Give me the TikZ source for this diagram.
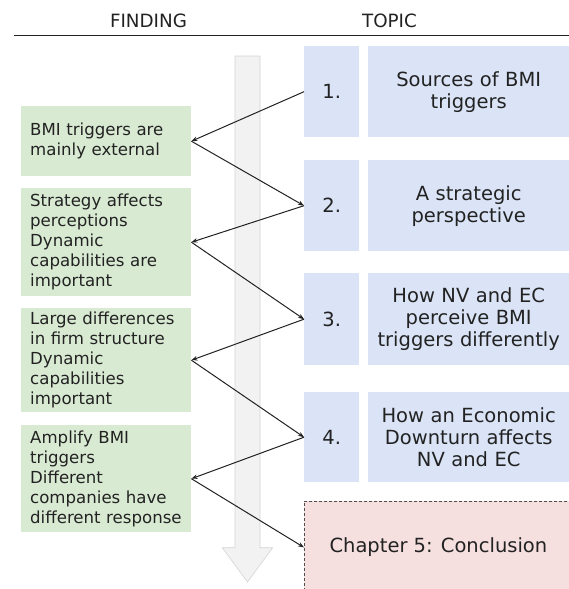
\documentclass[tikz,border=0pt]{standalone}
\usepackage{fontspec}
\setmainfont{DejaVu Sans}
\usetikzlibrary{arrows.meta}
\definecolor{ink}{HTML}{222222}
\definecolor{findfill}{HTML}{D9EAD3}
\definecolor{topicfill}{HTML}{DAE4F6}
\definecolor{endfill}{HTML}{F5DFDF}
\definecolor{flowfill}{HTML}{F2F2F2}
\definecolor{flowline}{HTML}{D4D4D4}
\tikzset{
  header/.style={font=\fontsize{18.3}{22}\selectfont, text=ink, anchor=base},
  findbox/.style={fill=findfill, draw=none, anchor=north west, minimum width=170pt,
    text width=152pt, inner xsep=9pt, inner ysep=0pt, align=left, text=ink,
    font=\fontsize{16.6}{20}\selectfont},
  numbox/.style={fill=topicfill, draw=none, anchor=north west, minimum width=55pt,
    inner sep=0pt, text=ink, font=\fontsize{19.5}{22}\selectfont},
  titlebox/.style={fill=topicfill, draw=none, anchor=north west, minimum width=201pt,
    text width=195pt, inner xsep=3pt, inner ysep=0pt, align=center, text=ink,
    font=\fontsize{19.5}{22}\selectfont},
  endbox/.style={fill=endfill, draw=ink!80, dash pattern=on 3pt off 2pt,
    line width=0.8pt, anchor=north west, minimum width=268pt, minimum height=92pt,
    inner sep=0pt, text=ink, font=\fontsize{19.5}{22}\selectfont},
  link/.style={draw=ink, line width=1pt, -{Stealth[length=6pt,width=4.5pt]}}
}
\begin{document}
\begin{tikzpicture}[x=1pt, y=-1pt]
  \useasboundingbox (0,0) rectangle (569,589);
  \clip (0,0) rectangle (569,589);

  % column headings and rule
  \node[header] (hfind) at (148.5,27.3) {FINDING};
  \node[header] (htopic) at (389.5,27.3) {TOPIC};
  \coordinate (ruleL) at (14,35);
  \coordinate (ruleR) at (569,35);
  \draw[ink, line width=1pt] (ruleL) -- (ruleR);

  % broad flow arrow down the middle
  \draw[fill=flowfill, draw=flowline, line width=0.6pt]
    (235,56) -- (260,56) -- (260,547.7) -- (272.7,547.7) -- (247.5,582)
    -- (222.3,547.7) -- (235,547.7) -- cycle;

  % topics
  \node[numbox, minimum height=91pt] (n1) at (304,46) {1.};
  \node[titlebox, minimum height=91pt] (t1) at (368,46) {Sources of BMI\\triggers};
  \node[numbox, minimum height=91pt] (n2) at (304,160) {2.};
  \node[titlebox, minimum height=91pt] (t2) at (368,160) {A strategic\\perspective};
  \node[numbox, minimum height=92pt] (n3) at (304,273) {3.};
  \node[titlebox, minimum height=92pt] (t3) at (368,273) {How NV and EC\\perceive BMI\\triggers differently};
  \node[numbox, minimum height=90pt] (n4) at (304,392) {4.};
  \node[titlebox, minimum height=90pt] (t4) at (368,392) {How an Economic\\Downturn affects\\NV and EC};
  \node[endbox] (n5) at (304,501) {Chapter 5: Conclusion};

  % findings
  \node[findbox, minimum height=70pt] (g1) at (21,106) {BMI triggers are\\mainly external};
  \node[findbox, minimum height=108pt] (g2) at (21,188) {Strategy affects\\perceptions\\Dynamic\\capabilities are\\important};
  \node[findbox, minimum height=104pt] (g3) at (21,308) {Large differences\\in firm structure\\Dynamic\\capabilities\\important};
  \node[findbox, minimum height=107pt] (g4) at (21,425) {Amplify BMI\\triggers\\Different\\companies have\\different response};

  % zig-zag reading path
  \draw[link] (n1.west) -- (g1.east);
  \draw[link] (g1.east) -- (n2.west);
  \draw[link] (n2.west) -- (g2.east);
  \draw[link] (g2.east) -- (n3.west);
  \draw[link] (n3.west) -- (g3.east);
  \draw[link] (g3.east) -- (n4.west);
  \draw[link] (n4.west) -- (g4.east);
  \draw[link] (g4.east) -- (n5.west);
\end{tikzpicture}
\end{document}
